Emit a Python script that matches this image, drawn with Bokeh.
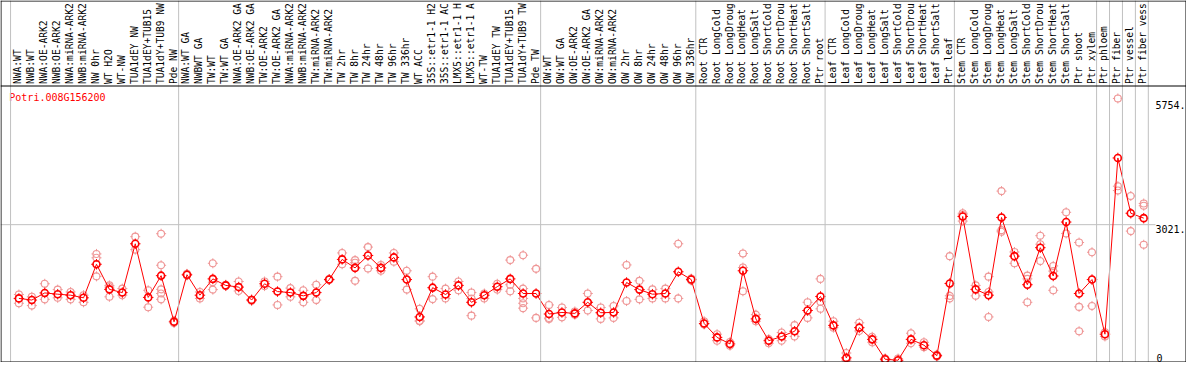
import math
from bokeh.plotting import figure
from bokeh.models import Range1d, Span
from bokeh.core.properties import value
from bokeh.embed import file_html
from bokeh.resources import INLINE

gene_id = "Potri.008G156200"

group_nw = ["NWA:WT", "NWB:WT", "NWA:OE-ARK2", "NWB:OE-ARK2", "NWA:miRNA-ARK2",
            "NWB:miRNA-ARK2", "NW 0hr", "WT H2O", "WT-NW", "TUA1dEY NW",
            "TUA1dEY+TUB15", "TUA1dY+TUB9 NW", "Pde NW"]
group_tw = ["NWA:WT GA", "NWBWT GA", "TW:WT", "TW:WT GA", "NWA:OE-ARK2 GA",
            "NWB:OE-ARK2 GA", "TW:OE-ARK2", "TW:OE-ARK2 GA", "NWA:miRNA-ARK2",
            "NWB:miRNA-ARK2", "TW:miRNA-ARK2", "TW:miRNA-ARK2", "TW 2hr",
            "TW 8hr", "TW 24hr", "TW 48hr", "TW 96hr", "TW 336hr", "WT ACC",
            "35S::etr1-1 H2", "35S::etr1-1 AC", "LMX5::etr1-1 H",
            "LMX5::etr1-1 A", "WT-TW", "TUA1dEY TW", "TUA1dEY+TUB15",
            "TUA1dY+TUB9 TW", "Pde TW"]
group_ow = ["OW:WT", "OW:WT GA", "OW:OE-ARK2", "OW:OE-ARK2 GA", "OW:miRNA-ARK2",
            "OW:miRNA-ARK2", "OW 2hr", "OW 8hr", "OW 24hr", "OW 48hr", "OW 96hr",
            "OW 336hr"]
group_root = ["Root CTR", "Root LongCold", "Root LongDroug", "Root LongHeat",
              "Root LongSalt", "Root ShortCold", "Root ShortDrou", "Root ShortHeat",
              "Root ShortSalt", "Ptr root"]
group_leaf = ["Leaf CTR", "Leaf LongCold", "Leaf LongDroug", "Leaf LongHeat",
              "Leaf LongSalt", "Leaf ShortCold", "Leaf ShortDrou", "Leaf ShortHeat",
              "Leaf ShortSalt", "Ptr leaf"]
group_stem = ["Stem CTR", "Stem LongCold", "Stem LongDroug", "Stem LongHeat",
              "Stem LongSalt", "Stem ShortCold", "Stem ShortDrou", "Stem ShortHeat",
              "Stem ShortSalt", "Ptr shoot", "Ptr xylem"]
groups = [group_nw, group_tw, group_ow, group_root, group_leaf, group_stem,
          ["Ptr phloem"], ["Ptr fiber"], ["Ptr vessel"], ["Ptr fiber vess"]]
categories = [c for g in groups for c in g]

mean_expr = [1393, 1357, 1514, 1486, 1464, 1406, 2147, 1593, 1522, 2599, 1415, 1895, 876,
             1916, 1464, 1824, 1680, 1643, 1357, 1716, 1544, 1522, 1449, 1522, 1809,
             2254, 2067, 2341, 2067, 2298, 1809, 984, 1630, 1479, 1680, 1307, 1464,
             1652, 1824, 1501, 1501,
             1049, 1083, 1062, 1307, 1077, 1083, 1744, 1587, 1486, 1501, 1981, 1809,
             840, 532, 388, 2003, 941, 459, 553, 668, 1126, 1436,
             797, 80, 747, 489, 50, 28, 489, 360, 129, 1723,
             3202, 1593, 1464, 3180, 2326, 1695, 2513, 1888, 3079, 1501, 1809,
             603, 4494, 3273, 3165]

replicate_expr = [
    [1479, 1286], [1428, 1234], [1716, 1372], [1587, 1406], [1535, 1372],
    [1464, 1307], [2375, 2289, 1880], [1680, 1643, 1428], [1609, 1464],
    [2756, 2470], [1572, 1199], [2821, 2125, 1593, 1501, 1372], [850, 900],
    [1900, 1935], [1535, 1393], [2168, 1751, 1587], [1665, 1695], [1766, 1557],
    [1340, 1370], [1766, 1665], [1873, 1249], [1621, 1428], [1572, 1307],
    [1695, 1357], [1800, 1820], [2397, 2147], [2239, 2181, 1781], [2526, 2052],
    [2003, 2132], [2397, 2203], [2003, 1587], [1163, 900, 889], [1873, 1378],
    [1609, 1393], [1766, 1572], [1522, 1390, 1012], [1501, 1393], [1716, 1587],
    [2239, 1695, 1550], [2347, 1609, 1393, 1286, 1178], [2046, 963],
    [1249, 960, 941], [1191, 975], [1105, 1034], [1501, 1126], [1191, 941],
    [1227, 963], [2132, 1335], [1781, 1372], [1593, 1393], [1609, 1393],
    [2599, 1393], [1787, 1830],
    [889, 818], [603, 459], [430, 350], [2384, 2074, 1550], [1034, 889],
    [495, 403], [640, 459], [803, 553], [1307, 963], [1824, 1320, 1163],
    [889, 747], [187, 28], [855, 674], [545, 424], [28, 71], [65, 10],
    [624, 403], [424, 317], [151, 108], [2326, 1450, 1393],
    [3273, 3236, 3100], [1680, 1449], [1873, 1535, 984], [3762, 2900, 2864],
    [2418, 2168], [1895, 1824, 1307], [2778, 2590, 2218], [2110, 1996, 1572],
    [3294, 2827], [2627, 1206, 668], [2412, 1227],
    [553, 646], [5808, 3870, 3775], [3654, 2879], [3488, 3439, 2578],
]

axis_tick_values = [5754, 3021, 0]
axis_tick_labels = ["5754.", "3021.", "0"]
grid_value = 3021

# ---- layout ----
W, H = 1186, 362
# horizontal: category i sits at reference px 19 + 13 i; reference frame 1..1192.5
SX = 1185.0 / 1191.5


def fx_to_idx(fx):
    rx = 1.0 + (fx - 0.5) / SX
    return (rx - 19.0) / 13.0


# vertical: value 0 at figure y 361, band line at 85
ZERO_FY, BAND_FY = 361.0, 85.0
BAND_VALUE = 283.0 / (140.3 / 3021.0)
PPU = (ZERO_FY - BAND_FY) / BAND_VALUE


def fy_to_val(fy):
    return (ZERO_FY - fy) / PPU


p = figure(width=W, height=H,
           x_range=Range1d(fx_to_idx(0), fx_to_idx(W)),
           y_range=Range1d(fy_to_val(H), fy_to_val(0)),
           x_axis_type=None, y_axis_type=None,
           toolbar_location=None, output_backend="svg",
           min_border=0, min_border_left=0, min_border_right=0,
           min_border_top=0, min_border_bottom=0,
           outline_line_color=None,
           background_fill_color="white", border_fill_color="white")

GRAY = "#c0c0c0"
RED = "#ff0000"
PINK = "#ef9797"
FONT = value("DejaVu Sans Mono")

# group separators (full height)
bounds = [0]
for g in groups:
    bounds.append(bounds[-1] + len(g))
sep_off = (10.6 - 19.0) / 13.0
for b in bounds:
    p.add_layout(Span(location=b + sep_off, dimension="height",
                      line_color=GRAY, line_width=1))

# horizontal grid line
p.segment(x0=[fx_to_idx(0)], y0=[grid_value], x1=[fx_to_idx(1155)], y1=[grid_value],
          line_color=GRAY, line_width=1)

# frame lines
for loc in (fx_to_idx(0.5), fx_to_idx(1185.5)):
    p.add_layout(Span(location=loc, dimension="height", line_color="black", line_width=1))
for loc in (fy_to_val(0.5), fy_to_val(BAND_FY + 0.5), fy_to_val(ZERO_FY + 0.5)):
    p.add_layout(Span(location=loc, dimension="width", line_color="black", line_width=1))

idx = list(range(len(categories)))
rep_x = [i for i, r in enumerate(replicate_expr) for _ in r]
rep_y = [v for r in replicate_expr for v in r]

# replicates
p.scatter(rep_x, rep_y, marker="cross", size=10, line_color=PINK, line_width=1)
p.scatter(rep_x, rep_y, marker="circle", size=5.5, fill_color="white", line_color=None)
p.scatter(rep_x, rep_y, marker="circle", size=7, fill_color=None,
          line_color=PINK, line_width=1.1)

# means
p.scatter(idx, mean_expr, marker="cross", size=10.5, line_color=RED, line_width=1)
p.scatter(idx, mean_expr, marker="circle", size=5.5, fill_color="white", line_color=None)
p.line(idx, mean_expr, line_color=RED, line_width=1)
p.scatter(idx, mean_expr, marker="circle", size=7, fill_color=None,
          line_color=RED, line_width=1.6)

# category labels (vertical, in top band)
p.text(x=[i - 1.0 / 13.0 for i in idx], y=[fy_to_val(BAND_FY - 1.5)] * len(idx),
       text=categories, angle=math.pi / 2, text_align="left", text_baseline="middle",
       text_font=FONT, text_font_size="9.6px", text_color="black")

# gene title
p.text(x=[fx_to_idx(8.8)], y=[fy_to_val(91.5)], text=[gene_id], text_align="left",
       text_baseline="top", text_font=FONT, text_font_size="10px", text_color=RED)

# right-side value labels
top_vals = [v for v in axis_tick_values if v > 0]
top_labs = [l for v, l in zip(axis_tick_values, axis_tick_labels) if v > 0]
bot_vals = [v for v in axis_tick_values if v <= 0]
bot_labs = [l for v, l in zip(axis_tick_values, axis_tick_labels) if v <= 0]
p.text(x=[fx_to_idx(1155)] * len(top_vals), y=top_vals, text=top_labs, text_align="left",
       text_baseline="top", text_font=FONT, text_font_size="10px", text_color="black")
p.text(x=[fx_to_idx(1156)] * len(bot_vals), y=bot_vals, text=bot_labs, text_align="left",
       text_baseline="bottom", text_font=FONT, text_font_size="10px", text_color="black")

open("out.html", "w").write(file_html(p, INLINE))
